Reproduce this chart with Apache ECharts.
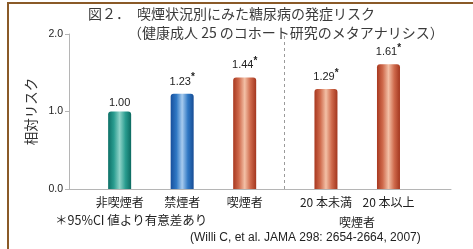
<!DOCTYPE html>
<html><head><meta charset="utf-8">
<script src="https://cdn.jsdelivr.net/npm/echarts@6/dist/echarts.min.js"></script>
<style>html,body{margin:0;padding:0;background:#fff}#c{width:473px;height:249px}</style>
</head><body><div id="c"></div>
<script>
const categories = ['非喫煙者', '禁煙者', '喫煙者', '20 本未満', '20 本以上'];
const values = [1.00, 1.23, 1.44, 1.29, 1.61];
const significant = [false, true, true, true, true];
const yTicks = [0, 1, 2];
const groupLabel = '喫煙者';
const titleLine1 = '図２．　喫煙状況別にみた糖尿病の発症リスク';
const titleLine2 = '（健康成人 25 のコホート研究のメタアナリシス）';
const footnote = '＊95%CI 値より有意差あり';
const citation = '(Willi C, et al. JAMA 298: 2654-2664, 2007)';

// layout: slot of each category along a value x-axis (gap between groups)
const slots = [1, 2, 3, 4.3, 5.3];
const dividerSlot = 3.63;

const palettes = [
  ['#0c6f66', '#2a9d90', '#8fd3c8', '#2a9d90', '#0c6a60'],
  ['#174f9c', '#2f78c4', '#a7cbee', '#2f78c4', '#174c94'],
  ['#a8381f', '#cf6a4c', '#f3c0a6', '#cf6a4c', '#a3361e']
];
const paletteIdx = [0, 1, 2, 2, 2];
function grad(p) {
  return new echarts.graphic.LinearGradient(0, 0, 1, 0, [
    {offset: 0, color: p[0]}, {offset: 0.25, color: p[1]}, {offset: 0.5, color: p[2]},
    {offset: 0.75, color: p[3]}, {offset: 1, color: p[4]}
  ]);
}

const numFont = '"Liberation Sans Narrow", "Liberation Sans", sans-serif';
const jpFont = '"Noto Sans CJK JP", sans-serif';

const chart = echarts.init(document.getElementById('c'), null, {renderer: 'canvas'});
chart.setOption({
  animation: false,
  backgroundColor: '#fff',
  grid: {left: 69, right: 22, top: 34, bottom: 60, containLabel: false},
  xAxis: {
    type: 'value', min: 0.19, max: 6.3,
    splitLine: {show: false},
    axisLine: {show: true, lineStyle: {color: '#b5b5b5', width: 1}},
    axisTick: {show: false},
    axisLabel: {
      show: true, customValues: slots, margin: 7,
      color: '#222', fontSize: 12, fontFamily: jpFont,
      formatter: function (v) {
        const i = slots.findIndex(s => Math.abs(s - v) < 1e-6);
        return i >= 0 ? categories[i] : '';
      }
    }
  },
  yAxis: {
    type: 'value', min: 0, max: 2, interval: 1,
    name: '相対リスク', nameLocation: 'middle', nameRotate: 90, nameGap: 24,
    nameTextStyle: {fontSize: 13.5, color: '#333', fontFamily: jpFont},
    splitLine: {show: false},
    axisLine: {show: true, lineStyle: {color: '#b5b5b5', width: 1}},
    axisTick: {show: true, length: 4, lineStyle: {color: '#b5b5b5'}},
    axisLabel: {
      color: '#222', fontSize: 10.5, fontFamily: numFont, margin: 6,
      formatter: v => yTicks.includes(v) ? v.toFixed(1) : ''
    }
  },
  series: [{
    type: 'bar',
    barWidth: 23,
    data: values.map((v, i) => ({
      value: [slots[i], v],
      itemStyle: {color: grad(palettes[paletteIdx[i]]), borderRadius: [3, 3, 0, 0]}
    })),
    label: {
      show: true, position: 'top', distance: 3,
      formatter: p => {
        const i = p.dataIndex;
        return '{v|' + values[i].toFixed(2) + '}' + (significant[i] ? '{s|*}' : '');
      },
      rich: {
        v: {fontSize: 11, color: '#222', fontFamily: numFont},
        s: {fontSize: 10, color: '#222', fontFamily: numFont, fontWeight: 'bold', padding: [0, 0, 8, 0]}
      }
    },
    markLine: {
      silent: true, symbol: 'none', label: {show: false},
      lineStyle: {color: '#9a9a9a', type: [3, 3], width: 1},
      data: [{xAxis: dividerSlot}]
    }
  }],
  graphic: [
    {type: 'rect', shape: {x: 8, y: 3, width: 600, height: 400},
     style: {fill: 'none', stroke: '#8a5a28', lineWidth: 2}, z: 100},
    {type: 'text', left: 88, top: 7,
     style: {text: titleLine1, font: '14px "Noto Sans CJK JP"', fill: '#3a3a3a'}},
    {type: 'text', left: 128, top: 26,
     style: {text: titleLine2, font: '14px "Noto Sans CJK JP"', fill: '#3a3a3a'}},
    {type: 'text', left: 339, top: 216,
     style: {text: groupLabel, font: '12px "Noto Sans CJK JP"', fill: '#222'}},
    {type: 'text', left: 55, top: 214,
     style: {text: footnote, font: '12.5px "Noto Sans CJK JP"', fill: '#222'}},
    {type: 'text', left: 190, top: 232,
     style: {text: citation, font: '12px "Liberation Sans", sans-serif', fill: '#222'}}
  ]
});
</script></body></html>
